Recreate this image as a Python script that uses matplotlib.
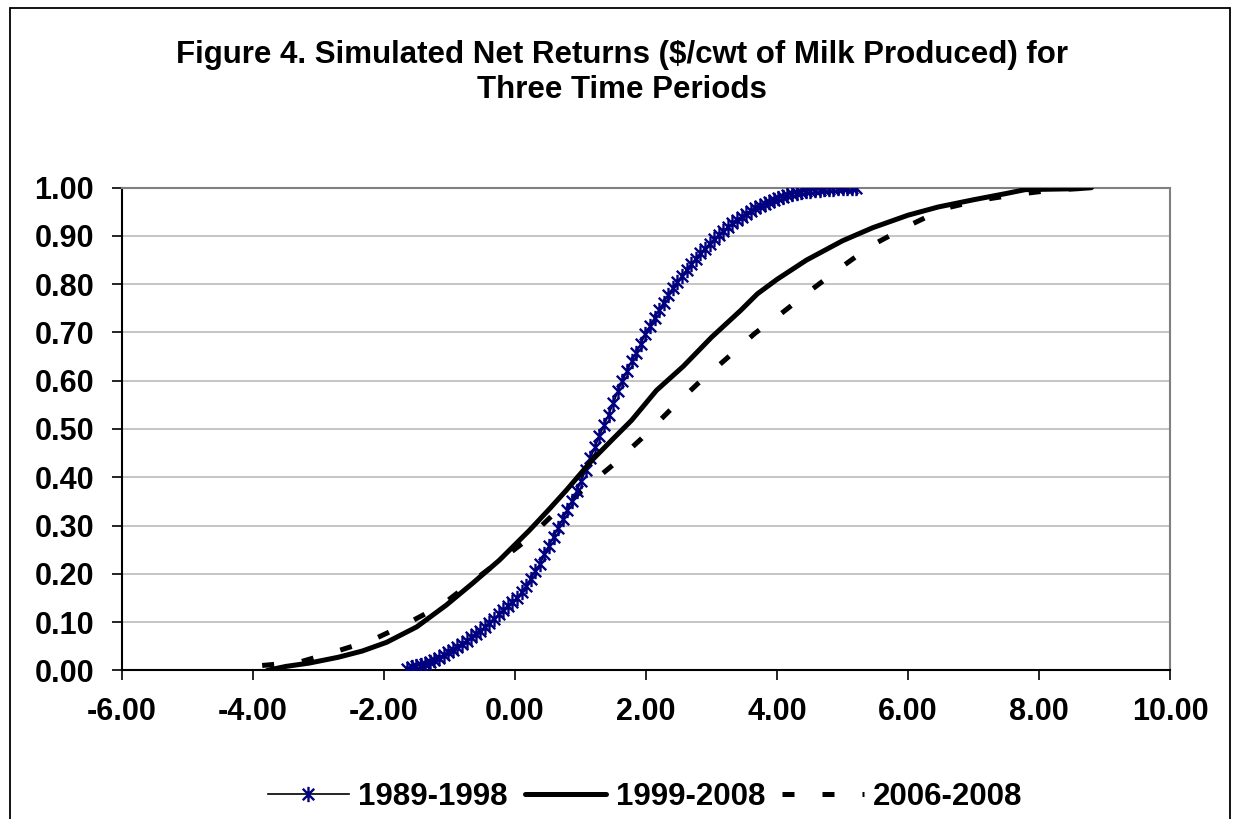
import matplotlib
matplotlib.use("Agg")
import matplotlib.pyplot as plt
from matplotlib.path import Path
from matplotlib.patches import Rectangle

plt.rcParams['font.family'] = ['Liberation Sans', 'DejaVu Sans']
plt.rcParams['font.weight'] = 'bold'

# 1989-1998 (x grid, cumulative probability)
x_8998 = [-1.65, -1.58, -1.51, -1.44, -1.37, -1.30, -1.23, -1.16, -1.09, -1.02,
          -0.95, -0.88, -0.81, -0.74, -0.67, -0.60, -0.53, -0.46, -0.39, -0.32,
          -0.25, -0.18, -0.11, -0.04, 0.03, 0.10, 0.17, 0.24, 0.31, 0.38,
          0.45, 0.52, 0.59, 0.66, 0.73, 0.80, 0.87, 0.94, 1.01, 1.08,
          1.15, 1.22, 1.29, 1.36, 1.43, 1.50, 1.57, 1.64, 1.71, 1.78,
          1.85, 1.92, 1.99, 2.06, 2.13, 2.20, 2.27, 2.34, 2.41, 2.48,
          2.55, 2.62, 2.69, 2.76, 2.83, 2.90, 2.97, 3.04, 3.11, 3.18,
          3.25, 3.32, 3.39, 3.46, 3.53, 3.60, 3.67, 3.74, 3.81, 3.88,
          3.95, 4.02, 4.09, 4.16, 4.23, 4.30, 4.37, 4.44, 4.51, 4.58,
          4.65, 4.72, 4.79, 4.86, 4.93, 5.00, 5.07, 5.14, 5.21]
p_8998 = [0.003, 0.006, 0.009, 0.011, 0.014, 0.017, 0.021, 0.026, 0.031, 0.037,
          0.043, 0.049, 0.055, 0.061, 0.068, 0.075, 0.082, 0.090, 0.099, 0.107,
          0.116, 0.125, 0.134, 0.142, 0.150, 0.162, 0.175, 0.190, 0.205, 0.220,
          0.240, 0.258, 0.277, 0.295, 0.313, 0.332, 0.351, 0.371, 0.392, 0.415,
          0.440, 0.462, 0.486, 0.508, 0.530, 0.553, 0.578, 0.600, 0.620, 0.640,
          0.658, 0.676, 0.697, 0.713, 0.730, 0.747, 0.762, 0.778, 0.792, 0.805,
          0.818, 0.830, 0.842, 0.853, 0.864, 0.874, 0.884, 0.893, 0.902, 0.910,
          0.918, 0.926, 0.933, 0.940, 0.946, 0.952, 0.957, 0.962, 0.967, 0.971,
          0.975, 0.978, 0.981, 0.984, 0.987, 0.989, 0.991, 0.993, 0.994, 0.995,
          0.996, 0.997, 0.998, 0.998, 0.999, 0.999, 1.000, 1.000, 1.000]

# 1999-2008
x_9908 = [-3.78, -3.50, -3.14, -2.70, -2.33, -1.96, -1.50, -1.05, -0.65, -0.24,
          0.22, 0.53, 0.79, 1.18, 1.50, 1.78, 2.16, 2.57, 3.00, 3.44,
          3.70, 4.00, 4.45, 5.00, 5.46, 6.00, 6.46, 7.00, 7.50, 7.79, 8.20, 8.60, 8.80]
p_9908 = [0.000, 0.008, 0.015, 0.027, 0.040, 0.058, 0.090, 0.135, 0.180, 0.228,
          0.290, 0.335, 0.374, 0.436, 0.480, 0.518, 0.580, 0.630, 0.690, 0.745,
          0.780, 0.810, 0.850, 0.890, 0.917, 0.943, 0.960, 0.975, 0.988, 0.996, 0.997, 0.998, 1.000]

# 2006-2008
x_0608 = [-3.86, -3.29, -2.76, -2.19, -1.66, -1.12, -0.69, -0.25, 0.18, 0.60,
          1.03, 1.49, 1.93, 2.36, 2.79, 3.23, 3.66, 4.09, 4.55, 5.00,
          5.44, 6.02, 6.56, 7.09, 7.66, 8.20, 8.80]
p_0608 = [0.010, 0.017, 0.038, 0.062, 0.096, 0.135, 0.180, 0.225, 0.270, 0.325,
          0.373, 0.425, 0.480, 0.538, 0.594, 0.646, 0.698, 0.742, 0.791, 0.837,
          0.880, 0.922, 0.957, 0.974, 0.986, 0.995, 1.000]

labels = ['1989-1998', '1999-2008', '2006-2008']
xticks = [-6, -4, -2, 0, 2, 4, 6, 8, 10]
yticks = [0.0, 0.1, 0.2, 0.3, 0.4, 0.5, 0.6, 0.7, 0.8, 0.9, 1.0]

# excel style star marker: vertical bar plus an X
star = Path([(0, -1), (0, 1), (-0.75, -0.75), (0.75, 0.75), (-0.75, 0.75), (0.75, -0.75)],
            [Path.MOVETO, Path.LINETO, Path.MOVETO, Path.LINETO, Path.MOVETO, Path.LINETO])

W, H = 1236, 819
fig = plt.figure(figsize=(W / 100, H / 100), dpi=100)
ax = fig.add_axes([122 / W, 1 - 670.3 / H, (1170 - 122) / W, (670.3 - 187.7) / H])

ax.plot(x_8998, p_8998, color='black', lw=1.2, marker=star, markersize=11,
        markeredgewidth=1.7, markeredgecolor='#000080', markerfacecolor='none',
        label=labels[0], zorder=3)
ax.plot(x_9908, p_9908, color='black', lw=3.6, solid_capstyle='round',
        label=labels[1], zorder=4)
ax.plot(x_0608, p_0608, color='black', lw=3.6, dashes=(2.4, 5.6),
        label=labels[2], zorder=2)

ax.set_xlim(-6, 10)
ax.set_ylim(0, 1)
ax.set_xticks(xticks)
ax.set_yticks(yticks)
ax.set_xticklabels(['%.2f' % v for v in xticks])
ax.set_yticklabels(['%.2f' % v for v in yticks])
ax.tick_params(axis='both', labelsize=22, direction='out', color='black', width=1.2)
ax.tick_params(axis='x', length=7, pad=12)
ax.tick_params(axis='y', length=7, pad=13)
ax.yaxis.grid(True, color='#c0c0c0', lw=1.3)
ax.set_axisbelow(True)
for s in ['top', 'right']:
    ax.spines[s].set_color('#808080')
    ax.spines[s].set_linewidth(1.5)
for s in ['bottom', 'left']:
    ax.spines[s].set_color('black')
    ax.spines[s].set_linewidth(1.5)

fig.text(622 / W, 1 - 55.5 / H, 'Figure 4. Simulated Net Returns ($/cwt of Milk Produced) for',
         ha='center', va='center', fontsize=22.5, fontweight='bold')
fig.text(622 / W, 1 - 90 / H, 'Three Time Periods',
         ha='center', va='center', fontsize=22.5, fontweight='bold')

leg = fig.legend(loc='center', bbox_to_anchor=(645 / W, 1 - 797 / H), ncol=3,
                 frameon=False, fontsize=22.5, handlelength=2.6, handletextpad=0.3,
                 columnspacing=0.55, borderpad=0)

fig.patches.append(Rectangle((10 / W, -0.02), 1220 / W, 1.02 - 8 / H, transform=fig.transFigure,
                             fill=False, edgecolor='black', lw=1.3))

fig.savefig('out.png', dpi=100)
